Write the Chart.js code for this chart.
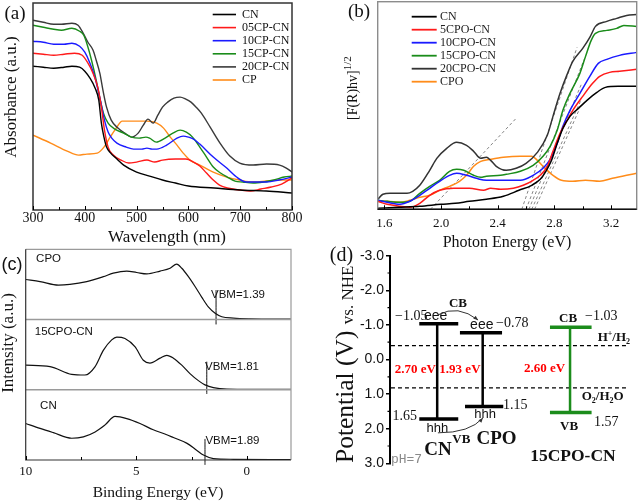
<!DOCTYPE html>
<html>
<head>
<meta charset="utf-8">
<script src="https://cdn.jsdelivr.net/npm/chart.js@4.4.1/dist/chart.umd.min.js"></script>
<style>
  html, body { margin:0; padding:0; background:#fff; }
  body { width:640px; height:503px; position:relative; overflow:hidden; }
  canvas { position:absolute; }
</style>
</head>
<body>
<canvas id="ca" style="left:0;top:0;width:320px;height:250px" width="320" height="250"></canvas>
<canvas id="cb" style="left:320px;top:0;width:320px;height:253px" width="320" height="253"></canvas>
<canvas id="cc" style="left:0;top:240px;width:320px;height:263px" width="320" height="263"></canvas>
<canvas id="cd" style="left:320px;top:240px;width:320px;height:263px" width="320" height="263"></canvas>
<script>
// ================= DATA =================
// ---- Panel (a): UV-vis absorbance vs wavelength (nm) ----
const a_CN_x   = [300,320,340,360,375,390,400,410,420,427,432,437,442,450,460,475,500,525,550,575,600,650,700,750,800];
const a_CN_y   = [1.44,1.43,1.42,1.43,1.44,1.43,1.39,1.32,1.22,1.10,0.87,0.73,0.63,0.57,0.52,0.45,0.38,0.34,0.30,0.27,0.24,0.22,0.20,0.19,0.17];
const a_05_x   = [300,320,340,360,380,395,405,415,425,432,438,445,455,470,485,500,520,535,550,575,595,610,622,635,648,660,675,700,720,740,760,780,800];
const a_05_y   = [1.57,1.56,1.55,1.56,1.57,1.55,1.48,1.38,1.23,1.03,0.80,0.63,0.55,0.50,0.47,0.48,0.50,0.48,0.50,0.51,0.51,0.48,0.44,0.37,0.30,0.25,0.22,0.20,0.19,0.21,0.23,0.26,0.32];
const a_10_x   = [300,320,340,360,375,390,400,410,420,430,438,445,452,462,480,494,510,520,530,539,558,578,590,600,610,622,648,674,693,712,730,751,775,800];
const a_10_y   = [1.69,1.68,1.66,1.66,1.67,1.64,1.58,1.47,1.32,1.10,0.90,0.78,0.72,0.67,0.63,0.61,0.61,0.62,0.61,0.61,0.65,0.72,0.74,0.73,0.71,0.66,0.53,0.42,0.33,0.28,0.28,0.28,0.30,0.33];
const a_15_x   = [300,320,340,355,375,390,398,405,413,422,429,436,445,458,475,490,505,518,525,538,555,570,584,596,608,622,635,648,662,675,690,705,725,745,765,785,800];
const a_15_y   = [1.85,1.83,1.81,1.80,1.82,1.79,1.75,1.65,1.50,1.30,1.12,0.97,0.87,0.81,0.77,0.73,0.72,0.73,0.72,0.68,0.72,0.77,0.80,0.78,0.73,0.63,0.53,0.43,0.37,0.33,0.29,0.28,0.27,0.28,0.30,0.33,0.34];
const a_20_x   = [300,320,340,355,375,387,397,406,416,422,429,435,442,451,464,477,490,503,513,522,532,541,550,560,572,584,595,605,615,625,642,661,680,699,725,751,776,789,800];
const a_20_y   = [1.90,1.88,1.86,1.86,1.87,1.85,1.77,1.68,1.60,1.50,1.37,1.20,1.03,0.90,0.82,0.77,0.73,0.77,0.85,0.91,0.87,0.95,1.03,1.08,1.12,1.13,1.11,1.08,1.03,0.97,0.83,0.67,0.54,0.47,0.45,0.46,0.45,0.42,0.38];
const a_CP_x   = [300,334,366,388,404,424,437,449,462,472,494,520,539,552,565,578,590,603,622,648,674,699,725,751,776,800];
const a_CP_y   = [0.75,0.67,0.59,0.55,0.56,0.57,0.63,0.73,0.83,0.89,0.89,0.89,0.87,0.82,0.73,0.65,0.57,0.50,0.45,0.38,0.33,0.30,0.28,0.29,0.30,0.30];
const aNames   = ['CN','05CP-CN','10CP-CN','15CP-CN','20CP-CN','CP'];
const aMajorTicks = [300,400,500,600,700,800];
const aMinorTicks = [350,450,550,650,750];

// ---- Panel (b): [F(R)hv]^1/2 vs photon energy (eV) ----
const b_CN_x  = [1.553,1.7,1.85,2.0,2.1,2.2,2.32,2.44,2.55,2.64,2.70,2.74,2.78,2.82,2.86,2.91,2.97,3.03,3.10,3.16,3.25,3.381];
const b_CN_y  = [0.01,0.02,0.03,0.05,0.06,0.08,0.10,0.13,0.19,0.24,0.30,0.38,0.49,0.66,0.81,0.93,1.01,1.09,1.17,1.22,1.23,1.23];
const b_5_x   = [1.553,1.62,1.71,1.78,1.85,1.92,1.99,2.09,2.2,2.3,2.35,2.42,2.51,2.58,2.65,2.7,2.75,2.79,2.84,2.89,2.93,3.0,3.07,3.12,3.19,3.26,3.381];
const b_5_y   = [0.08,0.05,0.03,0.02,0.06,0.14,0.19,0.21,0.21,0.19,0.21,0.20,0.21,0.24,0.29,0.34,0.43,0.58,0.76,0.89,0.99,1.13,1.26,1.33,1.37,1.38,1.40];
const b_10_x  = [1.553,1.62,1.71,1.78,1.85,1.92,1.99,2.06,2.11,2.18,2.25,2.32,2.44,2.56,2.65,2.72,2.77,2.82,2.86,2.91,2.98,3.05,3.11,3.17,3.26,3.381];
const b_10_y  = [0.09,0.07,0.05,0.08,0.14,0.21,0.28,0.34,0.36,0.34,0.31,0.29,0.29,0.29,0.34,0.41,0.50,0.66,0.83,0.99,1.16,1.33,1.46,1.50,1.54,1.57];
const b_15_x  = [1.553,1.62,1.71,1.78,1.85,1.92,1.99,2.06,2.11,2.16,2.23,2.28,2.32,2.42,2.46,2.56,2.65,2.72,2.77,2.82,2.86,2.91,2.98,3.02,3.06,3.09,3.17,3.24,3.29,3.381];
const b_15_y  = [0.09,0.08,0.07,0.08,0.16,0.23,0.29,0.38,0.40,0.39,0.34,0.32,0.33,0.34,0.35,0.38,0.44,0.53,0.63,0.79,0.99,1.16,1.36,1.53,1.69,1.76,1.79,1.81,1.84,1.83];
const b_20_x  = [1.553,1.59,1.64,1.76,1.80,1.85,1.92,1.97,2.04,2.11,2.18,2.23,2.28,2.32,2.35,2.39,2.46,2.53,2.60,2.68,2.75,2.79,2.84,2.89,2.93,3.0,3.05,3.09,3.17,3.24,3.31,3.381];
const b_20_y  = [0.10,0.15,0.16,0.16,0.18,0.24,0.39,0.51,0.61,0.67,0.64,0.58,0.51,0.52,0.49,0.43,0.39,0.41,0.46,0.57,0.74,0.93,1.16,1.35,1.48,1.61,1.72,1.83,1.88,1.91,1.94,1.95];
const b_CPO_x = [1.553,1.62,1.71,1.78,1.85,1.92,1.99,2.06,2.13,2.18,2.23,2.28,2.35,2.44,2.56,2.64,2.68,2.72,2.79,2.85,2.93,3.02,3.12,3.21,3.31,3.381];
const b_CPO_y = [0.08,0.08,0.07,0.09,0.12,0.14,0.19,0.23,0.28,0.34,0.43,0.48,0.50,0.52,0.53,0.53,0.49,0.43,0.34,0.29,0.28,0.29,0.28,0.31,0.34,0.36];
const bNames  = ['CN','5CPO-CN','10CPO-CN','15CPO-CN','20CPO-CN','CPO'];
// tangent (band-gap extrapolation) lines: [x0, x1], [y0, y1]
const bTangX  = [[1.925,2.53],[2.57,2.96],[2.60,3.01],[2.62,2.99],[2.64,2.99],[2.66,2.97]];
const bTangY  = [[0,0.91],[0,1.62],[0,1.50],[0,1.25],[0,1.10],[0,0.98]];
const bMajorTicks = [1.6,2.0,2.4,2.8,3.2];
const bMinorTicks = [1.8,2.2,2.6,3.0];

// ---- Panel (c): VB-XPS, intensity vs binding energy (eV), stacked ----
const c_CPO_x = [10,9.35,8.52,8.0,7.24,6.49,6.04,5.43,4.98,4.52,3.92,3.47,3.17,2.94,2.64,2.34,2.04,1.74,1.43,1.13,0.61,-0.15,-2];
const c_CPO_y = [2.57,2.54,2.49,2.50,2.54,2.61,2.66,2.69,2.67,2.65,2.69,2.73,2.79,2.73,2.61,2.47,2.32,2.18,2.09,2.04,2.02,2.01,2.005];
const c_MID_x = [10,8.9,7.92,7.32,6.86,6.49,6.11,5.88,5.51,5.05,4.68,4.38,3.92,3.62,3.32,2.94,2.57,2.19,1.89,1.51,0.90,-2];
const c_MID_y = [1.35,1.33,1.22,1.21,1.33,1.56,1.71,1.75,1.73,1.61,1.42,1.38,1.45,1.49,1.45,1.35,1.23,1.13,1.07,1.03,1.01,1.005];
const c_CN_x  = [10,9.35,8.75,7.92,7.39,6.86,6.41,5.96,5.43,4.83,4.23,3.62,3.32,2.72,2.27,1.96,1.51,0.61,-2];
const c_CN_y  = [0.52,0.45,0.39,0.31,0.33,0.40,0.50,0.62,0.59,0.52,0.43,0.36,0.32,0.24,0.14,0.07,0.02,0.01,0.005];
const cNames  = ['CPO','15CPO-CN','CN'];
const cVBM    = [1.39,1.81,1.89];
const cVBMText= ['VBM=1.39','VBM=1.81','VBM=1.89'];
const cVBMLineY = [[1.93,2.42],[0.94,1.40],[-0.07,0.30]];
const cBaselines = [2,1];
const cMajorTicks = [10,5,0];
const cMinorTicks = [7.5,2.5];

// ---- Panel (d): band positions (V vs NHE) ----
const dNames    = ['CN','CPO','15CPO-CN'];
const dCB       = [-1.03,-0.77,-0.93];   // drawn CB levels
const dVB       = [1.72,1.36,1.53];      // drawn VB levels
const dCBText   = ['\u22121.05','\u22120.78','\u22121.03'];
const dVBText   = ['1.65','1.15','1.57'];
const dGapText  = ['2.70 eV','1.93 eV','2.60 eV'];
const dRedox    = [-0.40, 0.82];         // H+/H2 and O2/H2O
const dTicks    = [-3,-2,-1,0,1,2,3];
const dMinor    = [-2.5,-1.5,-0.5,0.5,1.5,2.5];

// ================= STYLE / LAYOUT =================
const SERIF = "'Liberation Serif','Times New Roman',serif";
const SANS  = "'Liberation Sans',Arial,sans-serif";
const MONO  = "'Liberation Mono','DejaVu Sans Mono',monospace";
const aColors = ['#000000','#ff1a1a','#1a1aff','#1a8c1a','#3a3a3a','#ff8c1a'];
const bColors = ['#000000','#ff1a1a','#1a1aff','#1a8c1a','#333333','#ff8c1a'];
// column layout for the band diagram (hidden x axis 0..10)
const dCols = [
  {cb:[1.21,2.82], vb:[1.21,2.82], mid:1.95, color:'#000000'},
  {cb:[2.89,4.63], vb:[3.10,4.68], mid:3.83, color:'#000000'},
  {cb:[6.61,8.33], vb:[6.61,8.33], mid:7.44, color:'#1c8c1c'}
];
const dRedoxSpan = [0.04, 9.83];

// ================= HELPERS =================
const xy = (xs, ys) => xs.map((x, i) => ({x, y: ys[i]}));
function txt(ctx, s, x, y, font, color, align, base) {
  ctx.font = font; ctx.fillStyle = color || '#111';
  ctx.textAlign = align || 'left'; ctx.textBaseline = base || 'middle';
  ctx.fillText(s, x, y);
}
function rtxt(ctx, s, x, y, font, color) {
  ctx.save(); ctx.translate(x, y); ctx.rotate(-Math.PI / 2);
  txt(ctx, s, 0, 0, font, color, 'center', 'middle'); ctx.restore();
}
// runs: [{t, size, dy, bold, family, color}] drawn on baseline at x,y
function runs(ctx, parts, x, y, family, color, align, rot) {
  ctx.save(); ctx.translate(x, y); if (rot) ctx.rotate(rot);
  const fontOf = p => (p.bold ? 'bold ' : '') + p.size + 'px ' + (p.family || family);
  const ws = parts.map(p => { ctx.font = fontOf(p); return ctx.measureText(p.t).width; });
  const tot = ws.reduce((a, b) => a + b, 0);
  let cx = align === 'center' ? -tot / 2 : align === 'right' ? -tot : 0;
  ctx.textAlign = 'left'; ctx.textBaseline = 'alphabetic';
  parts.forEach((p, i) => { ctx.font = fontOf(p); ctx.fillStyle = p.color || color; ctx.fillText(p.t, cx, p.dy || 0); cx += ws[i]; });
  ctx.restore();
}
function inTicks(ctx, scale, yBase, vals, len, color) {
  ctx.save(); ctx.strokeStyle = color || '#000'; ctx.lineWidth = 1; ctx.beginPath();
  vals.forEach(v => { const x = Math.round(scale.getPixelForValue(v)) + 0.5; ctx.moveTo(x, yBase); ctx.lineTo(x, yBase - len); });
  ctx.stroke(); ctx.restore();
}
const baseOpts = (pad) => ({
  responsive: false, animation: false, events: [],
  layout: { padding: pad },
  plugins: { legend: { display: false }, tooltip: { enabled: false } }
});
const lineDs = (data, color, width, extra) => Object.assign({
  data, showLine: true, borderColor: color, borderWidth: width, pointRadius: 0,
  tension: 0.3, cubicInterpolationMode: 'monotone', fill: false
}, extra || {});

// ================= PANEL (a) =================
const aX = [a_CN_x, a_05_x, a_10_x, a_15_x, a_20_x, a_CP_x];
const aY = [a_CN_y, a_05_y, a_10_y, a_15_y, a_20_y, a_CP_y];
const decoA = { id: 'decoA', afterDraw(chart) {
  const {ctx, chartArea: ca, scales: {x}} = chart;
  ctx.save();
  ctx.strokeStyle = '#333'; ctx.lineWidth = 1.5;
  ctx.strokeRect(ca.left, ca.top, ca.right - ca.left, ca.bottom - ca.top);
  inTicks(ctx, x, ca.bottom, aMajorTicks, 4); inTicks(ctx, x, ca.bottom, aMinorTicks, 3);
  aNames.forEach((n, i) => {
    const yy = 14.5 + i * 13.1;
    ctx.strokeStyle = aColors[i]; ctx.lineWidth = 1.6;
    ctx.beginPath(); ctx.moveTo(212.7, yy); ctx.lineTo(236, yy); ctx.stroke();
    txt(ctx, n, 242, yy, '12px ' + SERIF, '#111');
  });
  txt(ctx, 'Wavelength (nm)', 167, 238, '17px ' + SERIF, '#111', 'center');
  rtxt(ctx, 'Absorbance (a.u.)', 12, 97, '17px ' + SERIF, '#111');
  txt(ctx, '(a)', 15, 14, '19px ' + SERIF, '#111', 'center');
  ctx.restore();
}};
new Chart(document.getElementById('ca'), {
  type: 'scatter',
  data: { datasets: aNames.map((n, i) => lineDs(xy(aX[i], aY[i]), aColors[i], 1.4, {label: n})) },
  options: Object.assign(baseOpts({top: 3, right: 28, left: 0, bottom: 0}), {
    scales: {
      x: { type: 'linear', min: 300, max: 800, afterFit(s) { s.height = 40; },
           grid: { display: false, drawTicks: false }, border: { display: false },
           ticks: { stepSize: 100, padding: 0, color: '#111', font: { family: SERIF, size: 14 }, maxRotation: 0, autoSkip: false, includeBounds: false } },
      y: { type: 'linear', min: 0, max: 2.073, afterFit(s) { s.width = 33; },
           grid: { display: false, drawTicks: false }, border: { display: false }, ticks: { display: false } }
    }
  }),
  plugins: [decoA]
});

// ================= PANEL (b) =================
const bX = [b_CN_x, b_5_x, b_10_x, b_15_x, b_20_x, b_CPO_x];
const bY = [b_CN_y, b_5_y, b_10_y, b_15_y, b_20_y, b_CPO_y];
const decoB = { id: 'decoB', afterDraw(chart) {
  const {ctx, chartArea: ca, scales: {x}} = chart;
  ctx.save();
  ctx.strokeStyle = '#8c8c8c'; ctx.lineWidth = 1.4;
  ctx.strokeRect(ca.left, ca.top, ca.right - ca.left, ca.bottom - ca.top);
  ctx.strokeStyle = '#111'; ctx.lineWidth = 1.4;
  ctx.beginPath(); ctx.moveTo(ca.left, ca.bottom); ctx.lineTo(ca.right, ca.bottom); ctx.stroke();
  inTicks(ctx, x, ca.bottom, bMajorTicks, 4); inTicks(ctx, x, ca.bottom, bMinorTicks, 3);
  bNames.forEach((n, i) => {
    const yy = 16.7 + i * 13.0;
    ctx.strokeStyle = bColors[i]; ctx.lineWidth = 1.8;
    ctx.beginPath(); ctx.moveTo(91.7, yy); ctx.lineTo(116.7, yy); ctx.stroke();
    txt(ctx, n, 120, yy, '12px ' + SERIF, '#222');
  });
  txt(ctx, 'Photon Energy (eV)', 187, 243, '16px ' + SERIF, '#111', 'center');
  runs(ctx, [{t: '[F(R)hv]', size: 14}, {t: '1/2', size: 11, dy: -6}], 36.7, 120, SERIF, '#111', 'left', -Math.PI / 2);
  txt(ctx, '(b)', 39, 12.5, '19px ' + SERIF, '#111', 'center');
  ctx.restore();
}};
const bDatasets = bNames.map((n, i) => lineDs(xy(bX[i], bY[i]), bColors[i], 1.5, {label: n}));
bTangX.forEach((tx, i) => bDatasets.push(lineDs(xy(tx, bTangY[i]), '#777', 0.9, {borderDash: [3, 2.5], tension: 0})));
new Chart(document.getElementById('cb'), {
  type: 'scatter',
  data: { datasets: bDatasets },
  options: Object.assign(baseOpts({top: 1.7, right: 3.3, left: 0, bottom: 0}), {
    scales: {
      x: { type: 'linear', min: 1.553, max: 3.381, afterFit(s) { s.height = 43.7; },
           grid: { display: false, drawTicks: false }, border: { display: false },
           ticks: { stepSize: 0.4, padding: 6, color: '#111', font: { family: SERIF, size: 13 }, maxRotation: 0, autoSkip: false, includeBounds: false,
                    callback: v => Number(v).toFixed(1) } },
      y: { type: 'linear', min: 0, max: 2.077, afterFit(s) { s.width = 57.7; },
           grid: { display: false, drawTicks: false }, border: { display: false }, ticks: { display: false } }
    }
  }),
  plugins: [decoB]
});

// ================= PANEL (c) =================
const cX = [c_CPO_x, c_MID_x, c_CN_x];
const cY = [c_CPO_y, c_MID_y, c_CN_y];
const cLabelPos = [[9.53, 2.86], [9.59, 1.83], [9.35, 0.77]];
const cVBMTextPos = [[1.62, 2.35], [1.89, 1.33], [1.87, 0.27]];
const decoC = { id: 'decoC', afterDraw(chart) {
  const {ctx, chartArea: ca, scales: {x, y}} = chart;
  ctx.save();
  ctx.strokeStyle = '#9a9a9a'; ctx.lineWidth = 1.2;
  ctx.beginPath(); ctx.moveTo(ca.left, ca.top); ctx.lineTo(ca.right, ca.top); ctx.lineTo(ca.right, ca.bottom); ctx.stroke();
  ctx.lineWidth = 1.5;
  cBaselines.forEach(b => { const yy = y.getPixelForValue(b); ctx.beginPath(); ctx.moveTo(ca.left, yy); ctx.lineTo(ca.right, yy); ctx.stroke(); });
  ctx.strokeStyle = '#333'; ctx.lineWidth = 1.2;
  ctx.beginPath(); ctx.moveTo(ca.left, ca.top); ctx.lineTo(ca.left, ca.bottom); ctx.lineTo(ca.right, ca.bottom); ctx.stroke();
  inTicks(ctx, x, ca.bottom, cMajorTicks, 4); inTicks(ctx, x, ca.bottom, cMinorTicks, 3);
  cNames.forEach((n, i) => txt(ctx, n, x.getPixelForValue(cLabelPos[i][0]), y.getPixelForValue(cLabelPos[i][1]), '11.5px ' + SANS, '#111'));
  cVBMText.forEach((t, i) => txt(ctx, t, x.getPixelForValue(cVBMTextPos[i][0]), y.getPixelForValue(cVBMTextPos[i][1]), '11.5px ' + SANS, '#111'));
  txt(ctx, 'Binding Energy (eV)', 158, 253, '15.5px ' + SERIF, '#111', 'center');
  rtxt(ctx, 'Intensity (a.u.)', 9, 103, '17px ' + SERIF, '#111');
  txt(ctx, '(c)', 12, 25, '18px ' + SANS, '#111', 'center');
  ctx.restore();
}};
const cDatasets = cNames.map((n, i) => lineDs(xy(cX[i], cY[i]), '#111', 1.2, {label: n, tension: 0.2}));
cVBM.forEach((v, i) => cDatasets.push(lineDs(xy([v, v], cVBMLineY[i]), '#111', 1, {tension: 0, clip: false})));
new Chart(document.getElementById('cc'), {
  type: 'scatter',
  data: { datasets: cDatasets },
  options: Object.assign(baseOpts({top: 9.3, right: 29, left: 0, bottom: 0}), {
    scales: {
      x: { type: 'linear', min: -2, max: 10, reverse: true, afterFit(s) { s.height = 43; },
           grid: { display: false, drawTicks: false }, border: { display: false },
           ticks: { stepSize: 5, padding: 4, color: '#111', font: { family: SERIF, size: 13 }, maxRotation: 0, autoSkip: false, includeBounds: false } },
      y: { type: 'linear', min: 0, max: 3, afterFit(s) { s.width = 25.7; },
           grid: { display: false, drawTicks: false }, border: { display: false }, ticks: { display: false } }
    }
  }),
  plugins: [decoC]
});

// ================= PANEL (d) =================
const dDatasets = [];
dCols.forEach((c, i) => {
  dDatasets.push(lineDs(xy(c.cb, [dCB[i], dCB[i]]), c.color, 3.5, {tension: 0, label: dNames[i] + ' CB'}));
  dDatasets.push(lineDs(xy(c.vb, [dVB[i], dVB[i]]), c.color, 3.5, {tension: 0, label: dNames[i] + ' VB'}));
  dDatasets.push(lineDs(xy([c.mid, c.mid], [dCB[i], dVB[i]]), c.color, 2.5, {tension: 0}));
});
dRedox.forEach(p => dDatasets.push(lineDs(xy(dRedoxSpan, [p, p]), '#000', 1.4, {tension: 0, borderDash: [4, 3]})));
const decoD = { id: 'decoD', afterDraw(chart) {
  const {ctx, chartArea: ca, scales: {x, y}} = chart;
  const P = (a, b) => [x.getPixelForValue(a), y.getPixelForValue(b)];
  ctx.save();
  // minor ticks on the potential axis
  ctx.strokeStyle = '#000'; ctx.lineWidth = 1.2; ctx.beginPath();
  dMinor.forEach(v => { const yy = y.getPixelForValue(v); ctx.moveTo(ca.left - 2.5, yy); ctx.lineTo(ca.left, yy); });
  ctx.stroke();
  const T = (s, a, b, font, color, align) => { const [px, py] = P(a, b); txt(ctx, s, px, py, font, color || '#111', align || 'left'); };
  // CN column
  T('CB', 2.81, -1.60, 'bold 13px ' + SERIF, '#111', 'center');
  T(dCBText[0], 0.21, -1.24, '14px ' + SERIF);
  T('eee', 1.40, -1.24, '14px ' + SANS);
  T(dVBText[0], 1.12, 1.65, '14px ' + SERIF, '#111', 'right');
  T('hhh', 1.96, 1.99, '13px ' + SANS, '#111', 'center');
  T('VB', 2.95, 2.31, 'bold 13px ' + SERIF, '#111', 'center');
  T('CN', 1.98, 2.62, 'bold 19px ' + SERIF, '#111', 'center');
  T('pH=7', 0.04, 2.88, '13px ' + MONO, '#8a8a8a');
  T(dGapText[0], 1.05, 0.28, 'bold 13px ' + SERIF, '#ff0000', 'center');
  // CPO column
  T('eee', 3.31, -1.00, '14px ' + SANS);
  T(dCBText[1], 4.38, -1.04, '14px ' + SERIF);
  T('hhh', 3.93, 1.58, '13px ' + SANS, '#111', 'center');
  T(dVBText[1], 4.67, 1.32, '14px ' + SERIF);
  T('CPO', 4.40, 2.31, 'bold 19px ' + SERIF, '#111', 'center');
  T(dGapText[1], 2.89, 0.28, 'bold 13px ' + SERIF, '#ff0000', 'center');
  // 15CPO-CN column
  T('CB', 7.36, -1.19, 'bold 13px ' + SERIF, '#111', 'center');
  T(dCBText[2], 8.06, -1.26, '14px ' + SERIF);
  T('VB', 7.40, 1.94, 'bold 13px ' + SERIF, '#111', 'center');
  T(dVBText[2], 8.43, 1.83, '14px ' + SERIF);
  T(dNames[2], 7.56, 2.81, 'bold 17.5px ' + SERIF, '#111', 'center');
  T(dGapText[2], 6.39, 0.27, 'bold 13px ' + SERIF, '#ff0000', 'center');
  // redox labels
  let [hx, hy] = P(8.58, -0.66);
  runs(ctx, [{t: 'H', size: 13, bold: true}, {t: '+', size: 8, dy: -5, bold: true}, {t: '/H', size: 13, bold: true}, {t: '2', size: 8, dy: 3, bold: true}], hx, hy + 4.5, SERIF, '#111', 'left');
  [hx, hy] = P(7.92, 1.05);
  runs(ctx, [{t: 'O', size: 13, bold: true}, {t: '2', size: 8, dy: 3, bold: true}, {t: '/H', size: 13, bold: true}, {t: '2', size: 8, dy: 3, bold: true}, {t: 'O', size: 13, bold: true}], hx, hy + 4.5, SERIF, '#111', 'left');
  // curved arrows (electron / hole transfer)
  const arrow = (a0, c0, a1, color) => {
    const [x0, y0] = P(a0[0], a0[1]), [cx, cy] = P(c0[0], c0[1]), [x1, y1] = P(a1[0], a1[1]);
    ctx.strokeStyle = color; ctx.fillStyle = color; ctx.lineWidth = 1;
    ctx.beginPath(); ctx.moveTo(x0, y0); ctx.quadraticCurveTo(cx, cy, x1, y1); ctx.stroke();
    const ang = Math.atan2(y1 - cy, x1 - cx);
    ctx.beginPath(); ctx.moveTo(x1, y1);
    ctx.lineTo(x1 - 5 * Math.cos(ang - 0.4), y1 - 5 * Math.sin(ang - 0.4));
    ctx.lineTo(x1 - 5 * Math.cos(ang + 0.4), y1 - 5 * Math.sin(ang + 0.4));
    ctx.closePath(); ctx.fill();
  };
  arrow([1.98, -1.29], [2.81, -1.60], [3.64, -1.14], '#333');
  arrow([1.98, 2.12], [3.30, 2.12], [3.84, 1.69], '#333');
  // axis title and panel label
  runs(ctx, [{t: 'Potential (V) ', size: 25.5}, {t: 'vs. ', size: 17}, {t: 'NHE', size: 17}], 33, 223, SERIF, '#111', 'left', -Math.PI / 2);
  txt(ctx, '(d)', 21.5, 16, '20px ' + SERIF, '#111', 'center');
  ctx.restore();
}};
new Chart(document.getElementById('cd'), {
  type: 'scatter',
  data: { datasets: dDatasets },
  options: Object.assign(baseOpts({top: 15.7, right: 8, left: 0, bottom: 39.7}), {
    scales: {
      x: { type: 'linear', min: 0, max: 10, display: false },
      y: { type: 'linear', min: -3, max: 3, reverse: true, afterFit(s) { s.width = 70; },
           grid: { drawOnChartArea: false, drawTicks: true, tickLength: 4, color: '#000', lineWidth: 1.5 },
           border: { display: true, color: '#000', width: 2 },
           ticks: { stepSize: 1, padding: 2, color: '#111', font: { family: SANS, size: 14 }, autoSkip: false, includeBounds: false,
                    callback: v => Number(v).toFixed(1) } }
    }
  }),
  plugins: [decoD]
});
</script>
</body>
</html>
